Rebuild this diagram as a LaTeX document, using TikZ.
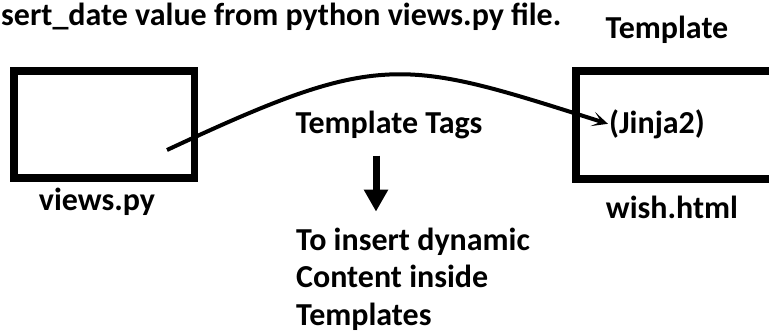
\documentclass[tikz,border=0pt]{standalone}
\usepackage{fontspec}
\setmainfont{Carlito}
\usetikzlibrary{arrows.meta,positioning}

\begin{document}
\begin{tikzpicture}[x=1pt,y=-1pt,>={Stealth[length=16pt,width=15pt,inset=9pt]},font=\bfseries\fontsize{32}{37.5}\selectfont]
	\tikzstyle{file}=[rectangle, draw=black, line width=7.5pt]
	\tikzstyle{lbl}=[inner sep=1pt, anchor=base]
	\tikzstyle{flow}=[line width=4pt]
	\tikzstyle{down}=[line width=7pt, -{Triangle[length=22pt,width=23pt]}]

	\useasboundingbox (0,0) rectangle (769,332);
	\clip (0,0) rectangle (769,332);

	% files
	\node [file, minimum width=180.5pt, minimum height=107pt] (views) at (104,124.5) {};
	\node [file, minimum width=230pt, minimum height=108pt] (wish) at (691,125) {};
	\node [lbl] (viewslbl) at (97,210) {views.py};
	\node [lbl] (wishlbl) at (672,218) {wish.html};

	% titles
	\node [lbl, anchor=base west] (note) at (0,25) {sert\_date value from python views.py file.};
	\node [lbl] (tmpl) at (667,38) {Template};
	\node [lbl] (jinja) at (657,133) {(Jinja2)};
	\node [lbl] (tags) at (389,133) {Template Tags};
	\node [lbl, anchor=base west, align=left] (content) at (295,325) {To insert dynamic\\Content inside\\Templates};

	% arrows
	\coordinate (src) at (167,150);
	\draw [flow,->] (src) .. controls (381,50) and (401,58) .. (jinja.west);
	\draw [down] ([xshift=-13pt]tags.south) ++(0,16) -- ++(0,56);
\end{tikzpicture}
\end{document}
